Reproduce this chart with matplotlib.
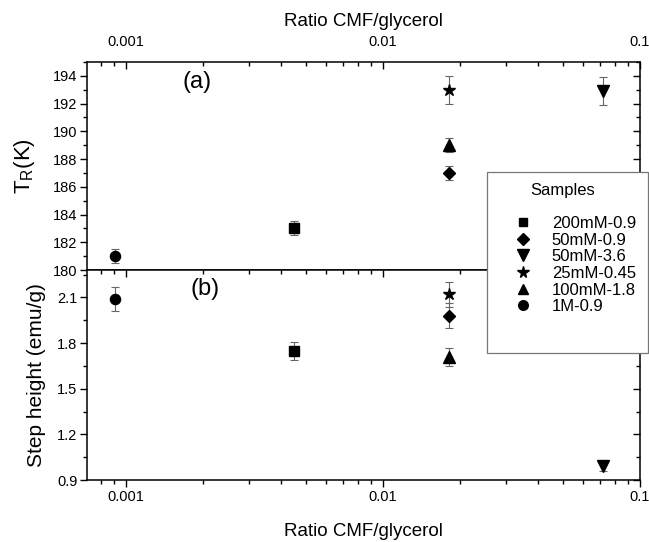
import numpy as np
import matplotlib
matplotlib.use("Agg")
import matplotlib.pyplot as plt
from matplotlib.patches import Rectangle
from matplotlib.ticker import FixedLocator, FixedFormatter, MultipleLocator, LogLocator, NullFormatter

plt.rcParams['font.family'] = ['Liberation Sans', 'DejaVu Sans']

# samples, in legend order
samples = ['200mM-0.9', '50mM-0.9', '50mM-3.6', '25mM-0.45', '100mM-1.8', '1M-0.9']
markers = ['s', 'D', 'v', '*', '^', 'o']
ratio = [0.00452, 0.0181, 0.0718, 0.0181, 0.0181, 0.00091]

# (a) T_R (K)
tr = [183.0, 187.0, 192.9, 193.0, 189.0, 181.0]
tr_err = [0.5, 0.5, 1.0, 1.0, 0.5, 0.5]

# (b) step height (emu/g)
step = [1.75, 1.98, 0.99, 2.12, 1.71, 2.09]
step_err = [0.06, 0.08, 0.03, 0.08, 0.06, 0.08]

msize = [6.5, 6.2, 8.6, 9.0, 8.0, 7.3]

W, H = 649, 542
fig = plt.figure(figsize=(W / 100, H / 100), dpi=100)
ax1 = fig.add_axes([87 / W, 1 - 270 / H, 553 / W, 208 / H])
ax2 = fig.add_axes([87 / W, 1 - 480 / H, 553 / W, 210 / H])

handles = []
for i in range(len(samples)):
    ax1.errorbar(ratio[i], tr[i], yerr=tr_err[i], fmt=markers[i], color='black',
                 ms=msize[i], ecolor='#666666', elinewidth=0.8, capsize=3.2, capthick=0.8)
    ax2.errorbar(ratio[i], step[i], yerr=step_err[i], fmt=markers[i], color='black',
                 ms=msize[i], ecolor='#666666', elinewidth=0.8, capsize=3.2, capthick=0.8)
    h, = ax1.plot([], [], markers[i], color='black', ms=msize[i] * 0.95, label=samples[i])
    handles.append(h)

for ax in (ax1, ax2):
    ax.set_xscale('log')
    ax.set_xlim(0.000705, 0.1)
    ax.xaxis.set_major_locator(FixedLocator([0.001, 0.01, 0.1]))
    ax.xaxis.set_minor_locator(LogLocator(base=10, subs=np.arange(2, 10)))
    ax.xaxis.set_minor_formatter(NullFormatter())
    for s in ax.spines.values():
        s.set_linewidth(1.1)
    ax.tick_params(axis='both', which='major', length=5, width=1, labelsize=10.5, pad=2)
    ax.tick_params(axis='both', which='minor', length=3, width=1)
    ax.tick_params(axis='y', which='both', right=True, direction='out')

# top panel
ax1.set_ylim(180, 195)
ax1.yaxis.set_major_locator(FixedLocator(np.arange(180, 195, 2)))
ax1.yaxis.set_minor_locator(MultipleLocator(1))
ax1.xaxis.tick_top()
ax1.xaxis.set_label_position('top')
ax1.xaxis.set_major_formatter(FixedFormatter(['0.001', '0.01', '0.1']))
ax1.tick_params(axis='x', which='both', top=True, bottom=False, direction='in', pad=9)
ax1.set_xlabel('Ratio CMF/glycerol', fontsize=13.5, labelpad=7)
ax1.set_ylabel(r'T$_\mathregular{R}$(K)', fontsize=16, labelpad=11)
fig.text(183 / W, 1 - 82 / H, '(a)', fontsize=17, va='center', ha='left')

# bottom panel
ax2.set_ylim(0.9, 2.28)
ax2.yaxis.set_major_locator(FixedLocator([0.9, 1.2, 1.5, 1.8, 2.1]))
ax2.yaxis.set_minor_locator(MultipleLocator(0.15))
ax2.xaxis.set_major_formatter(FixedFormatter(['0.001', '0.01', '0.1']))
ax2.tick_params(axis='x', which='both', top=True, bottom=True, direction='out')
# ticks on the panel join point down into the lower panel
for t in ax2.xaxis.get_ticklines(minor=False)[1::2]:
    t.set_marker(matplotlib.lines.TICKDOWN)
for t in ax2.xaxis.get_ticklines(minor=True)[1::2]:
    t.set_marker(matplotlib.lines.TICKDOWN)
ax2.set_xlabel('Ratio CMF/glycerol', fontsize=13.5, labelpad=14)
ax2.set_ylabel('Step height (emu/g)', fontsize=15, labelpad=8)
fig.text(190 / W, 1 - 289 / H, '(b)', fontsize=17, va='center', ha='left')

# right-hand ticks point inward
for ax in (ax1, ax2):
    for t in ax.yaxis.get_ticklines(minor=False)[1::2]:
        t.set_marker(matplotlib.lines.TICKLEFT)
    for t in ax.yaxis.get_ticklines(minor=True)[1::2]:
        t.set_marker(matplotlib.lines.TICKLEFT)

# legend box spanning both panels
fig.patches.append(Rectangle((487 / W, 1 - 353 / H), 161 / W, 181 / H,
                             transform=fig.transFigure, fill=True, facecolor='white',
                             edgecolor='#777777', linewidth=0.9, zorder=5))
fig.text(563 / W, 1 - 191 / H, 'Samples', fontsize=12, ha='center', va='center', zorder=7)
leg = fig.legend(handles=handles, loc='upper left',
                 bbox_to_anchor=(495 / W, 1 - 216 / H), fontsize=12,
                 frameon=False, handletextpad=0.06, labelspacing=0.1,
                 borderpad=0, handlelength=3.35, borderaxespad=0)
leg.set_zorder(6)

fig.savefig('out.png', dpi=100)
